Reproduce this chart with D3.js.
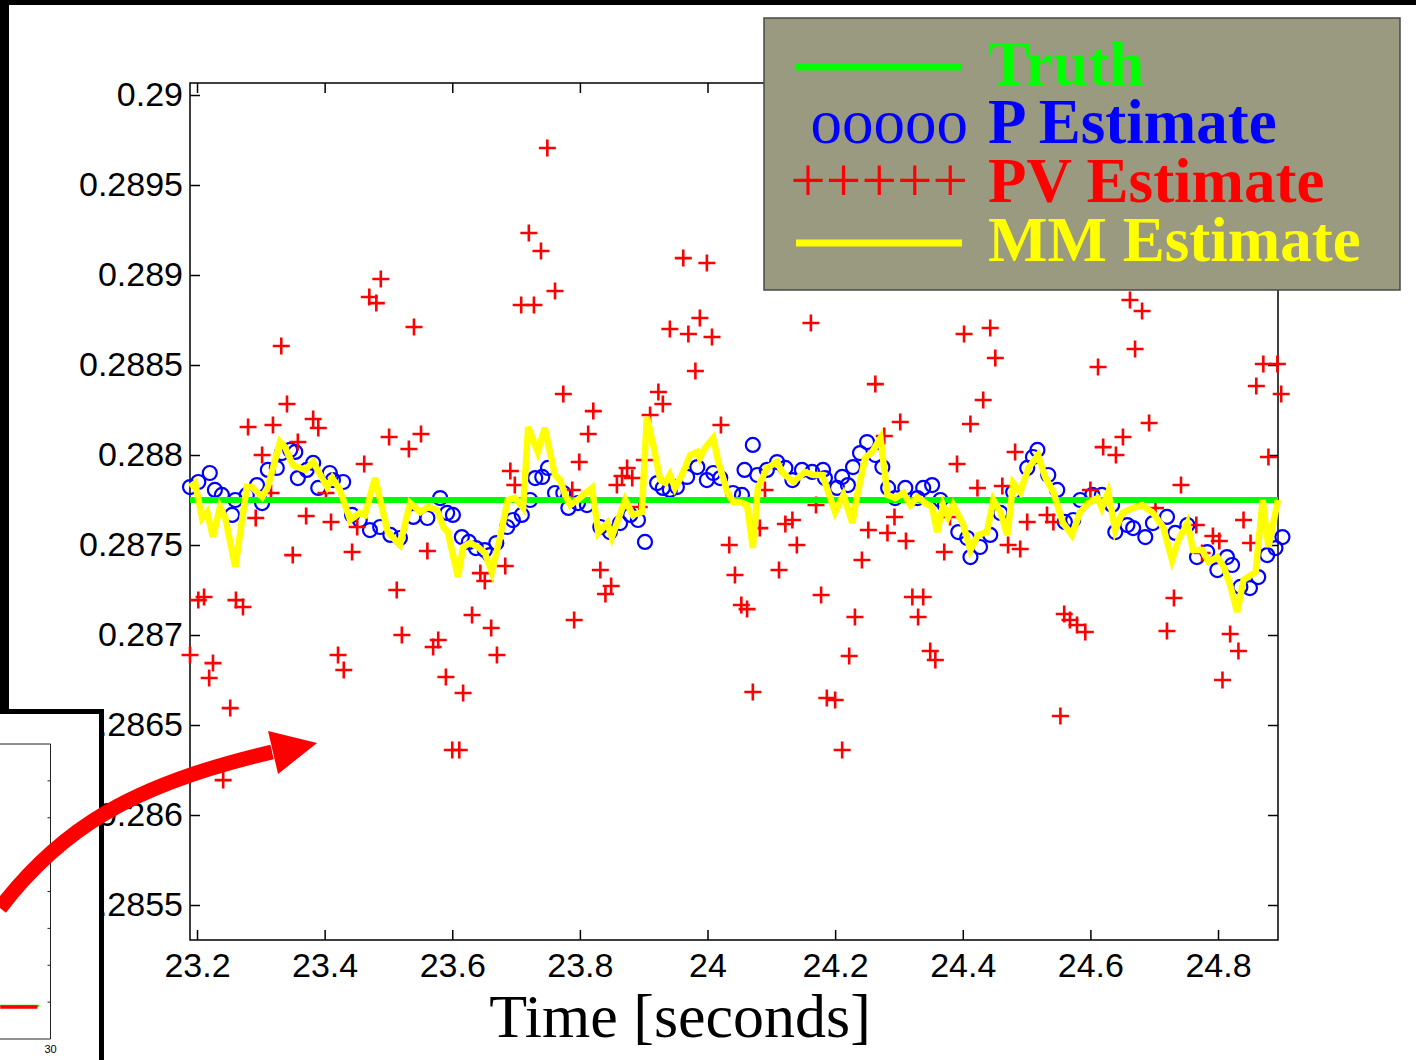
<!DOCTYPE html>
<html>
<head>
<meta charset="utf-8">
<script src="https://cdn.jsdelivr.net/npm/d3@7"></script>
<style>
  html, body { margin: 0; padding: 0; background: #fff; }
  svg { display: block; }
</style>
</head>
<body>
<svg id="fig" width="1416" height="1060"></svg>
<script>
// ---------------- data ----------------
const truthValue = 0.28775;
const truthSpan = [23.189, 24.894];

// P estimate: [time (s), value]
const pEstimate = [
  [23.189,0.287822],[23.202,0.28785],[23.220,0.2879],[23.228,0.287806],[23.239,0.287778],[23.255,0.287667],[23.260,0.28775],[23.278,0.287778],[23.294,0.287833],[23.302,0.287733],
  [23.311,0.287917],[23.325,0.287928],[23.333,0.288011],[23.346,0.288028],[23.354,0.288017],[23.358,0.287872],[23.372,0.287917],[23.382,0.287956],[23.390,0.287817],[23.408,0.2879],
  [23.413,0.287861],[23.429,0.28785],[23.443,0.287667],[23.455,0.287639],[23.471,0.287583],[23.487,0.2876],[23.503,0.287556],[23.518,0.287539],[23.539,0.287656],[23.561,0.28765],
  [23.581,0.287761],[23.592,0.287678],[23.601,0.287667],[23.615,0.287544],[23.626,0.287517],[23.637,0.287483],[23.651,0.287472],[23.659,0.287444],[23.669,0.287511],[23.686,0.2876],
  [23.695,0.287639],[23.709,0.287667],[23.722,0.28775],[23.730,0.287872],[23.741,0.287878],[23.750,0.287928],[23.761,0.287789],[23.774,0.287789],[23.782,0.287706],[23.797,0.287733],
  [23.811,0.287722],[23.832,0.2876],[23.847,0.287572],[23.863,0.287622],[23.879,0.287667],[23.891,0.287639],[23.902,0.287517],[23.921,0.287844],[23.930,0.287817],[23.941,0.287806],
  [23.952,0.287822],[23.968,0.287878],[23.984,0.287933],[23.999,0.287861],[24.009,0.2879],[24.020,0.287872],[24.040,0.287789],[24.054,0.287778],[24.058,0.287917],[24.071,0.288056],
  [24.078,0.287889],[24.093,0.287917],[24.109,0.287961],[24.122,0.287928],[24.133,0.287861],[24.148,0.287917],[24.164,0.287906],[24.181,0.287917],[24.184,0.287872],[24.203,0.287817],
  [24.211,0.287878],[24.220,0.287833],[24.228,0.287933],[24.239,0.288011],[24.250,0.288072],[24.263,0.288],[24.274,0.287933],[24.283,0.287817],[24.294,0.287761],[24.310,0.287817],
  [24.329,0.287761],[24.338,0.287817],[24.352,0.287833],[24.365,0.28775],[24.372,0.287722],[24.393,0.287572],[24.407,0.287539],[24.412,0.287433],[24.427,0.287489],[24.443,0.287556],
  [24.459,0.287678],[24.479,0.287794],[24.501,0.287928],[24.510,0.287989],[24.517,0.288028],[24.534,0.287889],[24.548,0.287806],[24.560,0.287628],[24.573,0.287639],[24.584,0.28775],
  [24.603,0.287778],[24.618,0.287778],[24.634,0.287722],[24.639,0.287572],[24.658,0.287611],[24.667,0.287594],[24.686,0.287544],[24.698,0.287622],[24.720,0.287656],[24.733,0.287567],
  [24.752,0.287611],[24.767,0.287433],[24.783,0.287461],[24.799,0.287361],[24.814,0.287433],[24.822,0.287389],[24.835,0.287267],[24.850,0.287261],[24.863,0.287322],[24.877,0.287444],
  [24.890,0.287483],[24.901,0.287544]
];

// PV estimate: [time (s), value]
const pvEstimate = [
  [23.189,0.286889],[23.202,0.287194],[23.211,0.287211],[23.219,0.286761],[23.225,0.286844],[23.241,0.286194],[23.252,0.286594],[23.261,0.287194],[23.272,0.287156],[23.280,0.288156],
  [23.292,0.28765],[23.302,0.288],[23.316,0.287789],[23.319,0.288167],[23.332,0.288606],[23.341,0.288283],[23.350,0.287444],[23.358,0.288072],[23.371,0.287661],[23.382,0.2882],
  [23.390,0.28815],[23.402,0.287789],[23.410,0.287628],[23.421,0.286889],[23.430,0.286806],[23.443,0.287461],[23.451,0.2876],[23.462,0.28795],[23.470,0.288878],[23.481,0.288844],
  [23.488,0.288978],[23.501,0.2881],[23.513,0.28725],[23.521,0.287],[23.532,0.288033],[23.540,0.288711],[23.551,0.288117],[23.561,0.287467],[23.570,0.286933],[23.578,0.286972],
  [23.590,0.286767],[23.600,0.286361],[23.611,0.286361],[23.617,0.286678],[23.631,0.287111],[23.644,0.287344],[23.651,0.2873],[23.661,0.287039],[23.670,0.286889],[23.683,0.287383],
  [23.691,0.287911],[23.698,0.287833],[23.708,0.288833],[23.720,0.289233],[23.728,0.288833],[23.739,0.289133],[23.749,0.289706],[23.761,0.288911],[23.774,0.288339],[23.788,0.287806],
  [23.791,0.287083],[23.799,0.287961],[23.813,0.288117],[23.821,0.288244],[23.832,0.287361],[23.840,0.287228],[23.849,0.287272],[23.858,0.287833],[23.866,0.287883],[23.874,0.287928],
  [23.882,0.287872],[23.893,0.287711],[23.901,0.287972],[23.910,0.288222],[23.923,0.28835],[23.930,0.288283],[23.941,0.2887],[23.962,0.289094],[23.970,0.288672],[23.981,0.288467],
  [23.988,0.288761],[23.999,0.289067],[24.007,0.288656],[24.021,0.288167],[24.034,0.2875],[24.043,0.287333],[24.053,0.287167],[24.062,0.287144],[24.071,0.286683],[24.082,0.287594],
  [24.090,0.287806],[24.112,0.287361],[24.122,0.287617],[24.133,0.287639],[24.140,0.2875],[24.162,0.288733],[24.170,0.287722],[24.178,0.287222],[24.187,0.28665],[24.200,0.286639],
  [24.211,0.286361],[24.222,0.286883],[24.231,0.2871],[24.242,0.287417],[24.252,0.287583],[24.263,0.288394],[24.277,0.288106],[24.282,0.287567],[24.293,0.287656],[24.302,0.288183],
  [24.311,0.287522],[24.321,0.287211],[24.330,0.2871],[24.338,0.287211],[24.349,0.286911],[24.357,0.286861],[24.371,0.287461],[24.380,0.287656],[24.391,0.28795],[24.402,0.288672],
  [24.412,0.288172],[24.423,0.287817],[24.432,0.288306],[24.443,0.288706],[24.451,0.288539],[24.462,0.287828],[24.471,0.2875],[24.482,0.288017],[24.490,0.287478],[24.501,0.287628],
  [24.532,0.287667],[24.542,0.287628],[24.553,0.28655],[24.559,0.287117],[24.568,0.287083],[24.579,0.287056],[24.592,0.287017],[24.600,0.287806],[24.612,0.288489],[24.620,0.288044],
  [24.640,0.288],[24.651,0.2881],[24.662,0.288861],[24.670,0.288589],[24.681,0.2888],[24.692,0.288178],[24.702,0.287706],[24.720,0.287022],[24.731,0.287206],[24.742,0.287833],
  [24.766,0.287611],[24.775,0.287456],[24.792,0.28755],[24.802,0.287522],[24.807,0.28675],[24.819,0.287006],[24.832,0.286911],[24.840,0.287639],[24.851,0.287511],[24.860,0.288383],
  [24.871,0.288506],[24.879,0.287989],[24.893,0.288506],[24.899,0.288339]
];

// MM estimate: [time (s), value]
const mmEstimate = [
  [23.189,0.287822],[23.197,0.287844],[23.208,0.28765],[23.216,0.287683],[23.225,0.287544],[23.236,0.287711],[23.244,0.287656],[23.260,0.287378],[23.278,0.287822],[23.286,0.287822],
  [23.302,0.287767],[23.311,0.287822],[23.330,0.288072],[23.338,0.288044],[23.350,0.287944],[23.369,0.287917],[23.382,0.287961],[23.404,0.287822],[23.412,0.287872],[23.424,0.287806],
  [23.440,0.287639],[23.455,0.287678],[23.463,0.287667],[23.479,0.287872],[23.499,0.287572],[23.518,0.2875],[23.534,0.287733],[23.550,0.287683],[23.562,0.287711],[23.576,0.287694],
  [23.586,0.2876],[23.593,0.287572],[23.609,0.287322],[23.617,0.287489],[23.628,0.287511],[23.640,0.287489],[23.651,0.287456],[23.662,0.28735],[23.675,0.287544],[23.687,0.28775],
  [23.698,0.287761],[23.711,0.287706],[23.719,0.288156],[23.734,0.288017],[23.745,0.28815],[23.761,0.287889],[23.769,0.287861],[23.777,0.287778],[23.785,0.287722],[23.800,0.287761],
  [23.819,0.287817],[23.829,0.287567],[23.843,0.287622],[23.850,0.287544],[23.871,0.28775],[23.883,0.287667],[23.897,0.287683],[23.905,0.288211],[23.915,0.288056],[23.926,0.287861],
  [23.934,0.287844],[23.941,0.287889],[23.949,0.287817],[23.960,0.287889],[23.973,0.288],[23.984,0.288017],[23.988,0.287983],[23.996,0.288039],[24.009,0.288094],[24.017,0.287961],
  [24.031,0.287794],[24.040,0.287739],[24.051,0.287739],[24.062,0.287722],[24.071,0.287483],[24.079,0.287817],[24.093,0.287928],[24.109,0.287961],[24.117,0.287906],[24.134,0.28785],
  [24.153,0.287906],[24.166,0.287889],[24.180,0.287889],[24.200,0.287683],[24.213,0.287778],[24.227,0.287622],[24.234,0.287767],[24.247,0.287983],[24.258,0.288017],[24.271,0.288094],
  [24.282,0.287778],[24.294,0.287761],[24.307,0.287789],[24.318,0.287722],[24.329,0.287767],[24.341,0.287733],[24.352,0.287711],[24.360,0.287572],[24.369,0.287722],[24.377,0.287656],
  [24.385,0.287722],[24.401,0.287611],[24.412,0.287472],[24.424,0.287556],[24.438,0.287572],[24.448,0.28775],[24.459,0.287683],[24.470,0.287556],[24.479,0.287844],[24.490,0.287794],
  [24.503,0.287928],[24.518,0.288],[24.529,0.287878],[24.542,0.287794],[24.557,0.287622],[24.571,0.287556],[24.584,0.287683],[24.597,0.287733],[24.611,0.287761],[24.618,0.287706],
  [24.628,0.287794],[24.639,0.287583],[24.650,0.287678],[24.667,0.287706],[24.681,0.287722],[24.698,0.287678],[24.714,0.2876],[24.728,0.287417],[24.738,0.287528],[24.752,0.287622],
  [24.761,0.287472],[24.775,0.287472],[24.785,0.287406],[24.799,0.287433],[24.809,0.287378],[24.819,0.287278],[24.830,0.287128],[24.840,0.287306],[24.859,0.28735],[24.870,0.28775],
  [24.879,0.287489],[24.894,0.28775]
];

const xTicks = [23.2, 23.4, 23.6, 23.8, 24.0, 24.2, 24.4, 24.6, 24.8];
const xTickLabels = ["23.2", "23.4", "23.6", "23.8", "24", "24.2", "24.4", "24.6", "24.8"];
const yTicks = [0.2855, 0.286, 0.2865, 0.287, 0.2875, 0.288, 0.2885, 0.289, 0.2895, 0.29];
const yTickLabels = ["0.2855", "0.286", "0.2865", "0.287", "0.2875", "0.288", "0.2885", "0.289", "0.2895", "0.29"];

const legendLabels = ["Truth", "P Estimate", "PV Estimate", "MM Estimate"];
const legendGlyphs = [null, "ooooo", "+++++", null];
const seriesColors = ["#00ff00", "#0000ff", "#ff0000", "#ffff00"];

// overview panel (whole record, squeezed)
const overviewTicks = [1, 2, 3, 4, 5, 6, 7];
const overviewXLabel = "30";
const overviewSpan = [8, 24.9];
const overviewLevel = 0.87;

// annotation arrow, given in the main plot's units
const arrowCurve = [[22.8912, 0.285483], [22.9853, 0.285917], [23.0950, 0.286167], [23.3176, 0.28635]];
const arrowHead = [[23.3113, 0.286467], [23.3270, 0.286228], [23.3881, 0.2864]];

// ---------------- drawing ----------------
const svg = d3.select("#fig");
const sans = "'Liberation Sans', Arial, Helvetica, sans-serif";
const serif = "'Liberation Serif', 'Times New Roman', Times, serif";

svg.append("rect").attr("width", 1416).attr("height", 1060).attr("fill", "#fff");
// dark surround along the top and left edge
svg.append("rect").attr("x", 0).attr("y", 0).attr("width", 1416).attr("height", 5).attr("fill", "#000");
svg.append("rect").attr("x", 0).attr("y", 0).attr("width", 9).attr("height", 714).attr("fill", "#000");

const x = d3.scaleLinear().domain([23.189, 24.894]).range([190, 1278]);
const y = d3.scaleLinear().domain([0.2853056, 0.2900667]).range([940, 83]);

function styleAxis(g, showText) {
  g.select(".domain").remove();
  g.selectAll(".tick line").attr("stroke", "#000").attr("stroke-width", 1.5);
  g.selectAll(".tick text")
    .attr("fill", "#000")
    .style("font-family", sans)
    .style("font-size", "34px")
    .style("display", showText ? null : "none");
}

const axes = svg.append("g");
axes.append("g").attr("transform", "translate(190,0)")
  .call(d3.axisLeft(y).tickValues(yTicks).tickFormat((d, i) => yTickLabels[i]).tickSize(-10).tickSizeOuter(0).tickPadding(7))
  .call(g => styleAxis(g, true));
axes.append("g").attr("transform", "translate(1278,0)")
  .call(d3.axisRight(y).tickValues(yTicks).tickFormat("").tickSize(-10).tickSizeOuter(0))
  .call(g => styleAxis(g, false));
axes.append("g").attr("transform", "translate(0,940)")
  .call(d3.axisBottom(x).tickValues(xTicks).tickFormat((d, i) => xTickLabels[i]).tickSize(-10).tickSizeOuter(0).tickPadding(13))
  .call(g => styleAxis(g, true));
axes.append("g").attr("transform", "translate(0,83)")
  .call(d3.axisTop(x).tickValues(xTicks).tickFormat("").tickSize(-10).tickSizeOuter(0))
  .call(g => styleAxis(g, false));
axes.append("rect")
  .attr("x", x.range()[0]).attr("y", y.range()[1])
  .attr("width", x.range()[1] - x.range()[0]).attr("height", y.range()[0] - y.range()[1])
  .attr("fill", "none").attr("stroke", "#000").attr("stroke-width", 1.5);

// x axis title
svg.append("text")
  .attr("x", 680).attr("y", 1037)
  .attr("text-anchor", "middle")
  .style("font-family", serif).style("font-size", "62px")
  .attr("fill", "#000")
  .text("Time [seconds]");

const plot = svg.append("g");

// P estimate: open circles
plot.append("g").selectAll("circle").data(pEstimate).join("circle")
  .attr("cx", d => x(d[0])).attr("cy", d => y(d[1])).attr("r", 7)
  .attr("fill", "none").attr("stroke", seriesColors[1]).attr("stroke-width", 2.2);

// PV estimate: plus markers
plot.append("g").selectAll("path").data(pvEstimate).join("path")
  .attr("transform", d => `translate(${x(d[0])},${y(d[1])})`)
  .attr("d", "M-8.5,0H8.5M0,-8.5V8.5")
  .attr("fill", "none").attr("stroke", seriesColors[2]).attr("stroke-width", 2.6);

const line = d3.line().x(d => x(d[0])).y(d => y(d[1]));

// truth
plot.append("path")
  .datum(truthSpan.map(t => [t, truthValue]))
  .attr("d", line)
  .attr("fill", "none").attr("stroke", seriesColors[0]).attr("stroke-width", 6);

// MM estimate
plot.append("path")
  .datum(mmEstimate)
  .attr("d", line)
  .attr("fill", "none").attr("stroke", seriesColors[3]).attr("stroke-width", 6.5)
  .attr("stroke-linejoin", "miter").attr("stroke-miterlimit", 4);

// legend
const lg = svg.append("g");
lg.append("rect").attr("x", 764).attr("y", 18).attr("width", 636).attr("height", 272)
  .attr("fill", "#999a80").attr("stroke", "#4a4a4a").attr("stroke-width", 1.5);
const rowBase = [85, 143, 202, 261];
legendLabels.forEach((lab, i) => {
  const c = seriesColors[i];
  if (legendGlyphs[i] === null) {
    lg.append("line").attr("x1", 796).attr("x2", 962)
      .attr("y1", rowBase[i] - 18).attr("y2", rowBase[i] - 18)
      .attr("stroke", c).attr("stroke-width", 7);
  } else {
    lg.append("text").attr("x", 968).attr("y", rowBase[i])
      .attr("text-anchor", "end")
      .style("font-family", serif).style("font-size", "63px")
      .attr("fill", c).text(legendGlyphs[i]);
  }
  lg.append("text").attr("x", 988).attr("y", rowBase[i])
    .style("font-family", serif).style("font-size", "63px").style("font-weight", "bold")
    .attr("fill", c).text(lab);
});

// overview panel in the lower-left corner
const ov = svg.append("g");
ov.append("rect").attr("x", 0).attr("y", 714).attr("width", 99).attr("height", 346).attr("fill", "#fff");
const ox = d3.scaleLinear().domain([0, 30]).range([-18, 50.5]);
const oy = d3.scaleLinear().domain([0, 8]).range([1039, 744]);
ov.append("path")
  .attr("d", `M0,${oy(8)}H${ox(30)}V${oy(0)}H0`)
  .attr("fill", "none").attr("stroke", "#222").attr("stroke-width", 1);
ov.selectAll("line.otick").data(overviewTicks).join("line").attr("class", "otick")
  .attr("x1", ox(30) - 3).attr("x2", ox(30))
  .attr("y1", d => oy(d)).attr("y2", d => oy(d))
  .attr("stroke", "#222").attr("stroke-width", 1);
ov.append("line")
  .attr("x1", ox(overviewSpan[0])).attr("x2", ox(overviewSpan[1]))
  .attr("y1", oy(overviewLevel) - 1).attr("y2", oy(overviewLevel) - 1)
  .attr("stroke", "#00ff00").attr("stroke-width", 2.5);
ov.append("line")
  .attr("x1", ox(overviewSpan[0])).attr("x2", ox(overviewSpan[1]) - 1.5)
  .attr("y1", oy(overviewLevel)).attr("y2", oy(overviewLevel))
  .attr("stroke", "#ff0000").attr("stroke-width", 3.5);
ov.append("text").attr("x", ox(30)).attr("y", 1053)
  .attr("text-anchor", "middle")
  .style("font-family", sans).style("font-size", "11px").attr("fill", "#000")
  .text(overviewXLabel);
// panel border
ov.append("path").attr("d", "M0,711.5H101.5V1060")
  .attr("fill", "none").attr("stroke", "#000").attr("stroke-width", 5);

// pointer arrow from the overview into the zoomed plot
const ap = d3.path();
const ac = arrowCurve.map(p => [x(p[0]), y(p[1])]);
ap.moveTo(ac[0][0], ac[0][1]);
ap.bezierCurveTo(ac[1][0], ac[1][1], ac[2][0], ac[2][1], ac[3][0], ac[3][1]);
svg.append("path").attr("d", ap.toString())
  .attr("fill", "none").attr("stroke", "#ff0000").attr("stroke-width", 15);
svg.append("polygon")
  .attr("points", arrowHead.map(p => `${x(p[0])},${y(p[1])}`).join(" "))
  .attr("fill", "#ff0000");
</script>
</body>
</html>
